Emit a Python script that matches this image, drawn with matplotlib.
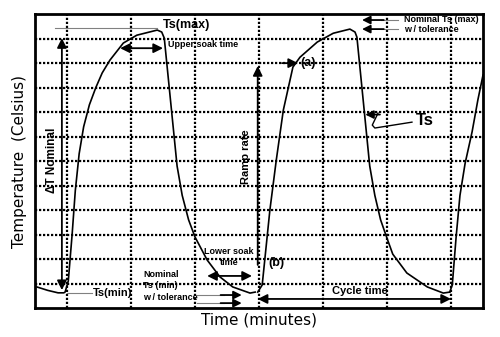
import numpy as np
import matplotlib.pyplot as plt

# --- Ts trace (time in grid units, temperature in grid units) ---
cyc1_t = [0.03, 0.2, 0.36, 0.45, 0.47, 0.52, 0.58, 0.63, 0.69, 0.76, 0.85, 0.95, 1.05, 1.17,
          1.38, 1.59, 1.91, 1.98, 2.02, 2.22, 2.3, 2.4, 2.5, 2.69, 2.89, 3.09, 3.36, 3.44]
cyc1_T = [0.86, 0.72, 0.62, 0.62, 0.65, 1.1, 3.0, 4.8, 6.3, 7.4, 8.3, 9.0, 9.6, 10.12,
          10.82, 11.14, 11.35, 11.27, 11.02, 5.8, 4.6, 3.6, 2.9, 1.96, 1.27, 0.86, 0.61, 0.65]
cyc2_t = [3.48, 3.55, 3.59, 3.67, 3.77, 3.88, 4.03, 4.14, 4.41, 4.66, 4.92, 5.0, 5.03,
          5.23, 5.31, 5.4, 5.5, 5.59, 5.81, 6.13, 6.38, 6.48]
cyc2_T = [0.65, 0.94, 1.96, 4.0, 6.04, 8.08, 9.84, 10.24, 10.86, 11.22, 11.39, 11.27, 11.06,
          5.8, 4.6, 3.6, 2.85, 2.2, 1.43, 0.86, 0.61, 0.65]
cyc3_t = [6.48, 6.52, 6.58, 6.64, 6.72, 6.83, 6.92, 7.0]
cyc3_T = [0.65, 0.94, 2.9, 4.6, 5.9, 7.2, 8.5, 9.51]

# annotation levels
ts_max = 11.43
ts_min = 0.61
tol_max = [11.76, 11.39]
tol_min = [0.53, 0.2]

fig = plt.figure(figsize=(5, 3.37), dpi=100)
ax = fig.add_axes([0.07, 0.086, 0.896, 0.872])
ax.set_xlim(0, 7)
ax.set_ylim(0, 12)
ax.set_xticks([]); ax.set_yticks([])
for s in ax.spines.values():
    s.set_linewidth(2)

# dotted grid
for x in np.arange(0.5, 7, 1):
    ax.axvline(x, color='black', lw=1.6, ls=(0, (1, 0.8)), zorder=1)
for y in range(1, 12):
    ax.axhline(y, color='black', lw=1.6, ls=(0, (1, 0.8)), zorder=1)

for t, T in [(cyc1_t, cyc1_T), (cyc2_t, cyc2_T), (cyc3_t, cyc3_T)]:
    ax.plot(t, T, color='black', lw=1.2, zorder=3)

bold = dict(fontweight='bold', family='Liberation Sans', color='black')

def arrow(x0, y0, x1, y1, style='-|>', color='black', lw=1.3, ms=14):
    ax.annotate('', xy=(x1, y1), xytext=(x0, y0),
                arrowprops=dict(arrowstyle=style, color=color, lw=lw,
                                mutation_scale=ms, shrinkA=0, shrinkB=0), zorder=4)

# Ts(max)
ax.plot([0.31, 1.91], [ts_max, ts_max], color='gray', lw=0.8, zorder=2)
ax.text(2.0, 11.57, 'Ts(max)', fontsize=9, va='center', ha='left', **bold)

# Delta T nominal
arrow(0.42, 6.0, 0.42, 11.02)
arrow(0.42, 6.0, 0.42, 0.73)
ax.text(0.27, 6.04, 'ΔT Nominal', rotation=90, fontsize=8.5, va='center', ha='center', **bold)

# upper soak time
arrow(1.33, 10.61, 2.0, 10.61, style='<|-|>')
ax.text(2.08, 10.78, 'Upper soak time', fontsize=6.5, va='center', ha='left', **bold)

# (a)
arrow(3.86, 10.0, 4.11, 10.0)
ax.text(4.15, 10.0, '(a)', fontsize=9, va='center', ha='left', **bold)

# ramp rate
arrow(3.48, 1.76, 3.48, 9.88)
ax.text(3.3, 6.2, 'Ramp rate', rotation=90, fontsize=8, va='center', ha='center', **bold)
ax.text(3.65, 1.84, '(b)', fontsize=9, va='center', ha='left', **bold)

# Ts label with leader
ax.plot([5.89, 5.31, 5.27, 5.36], [7.59, 7.35, 7.47, 7.96], color='black', lw=1.0, zorder=4)
arrow(5.39, 7.9, 5.16, 7.9, ms=12)
ax.text(5.95, 7.67, 'Ts', fontsize=12, va='center', ha='left', **bold)

# nominal Ts(max) with tolerance
for y in tol_max:
    ax.plot([5.4, 5.67], [y, y], color='gray', lw=0.8, zorder=2)
    arrow(5.45, y, 5.11, y, ms=12)
ax.text(5.77, 11.78, 'Nominal Ts (max)', fontsize=6.5, va='center', ha='left', **bold)
ax.text(5.77, 11.36, 'w / tolerance', fontsize=6.5, va='center', ha='left', **bold)

# lower soak time
ax.text(3.03, 2.29, 'Lower soak', fontsize=6.5, va='center', ha='center', **bold)
ax.text(3.03, 1.86, 'time', fontsize=6.5, va='center', ha='center', **bold)
arrow(2.69, 1.31, 3.39, 1.31, style='<|-|>')

# nominal Ts(min) with tolerance
ax.text(1.69, 1.36, 'Nominal', fontsize=6.5, va='center', ha='left', **bold)
ax.text(1.69, 0.9, 'Ts (min)', fontsize=6.5, va='center', ha='left', **bold)
ax.text(1.69, 0.42, 'w / tolerance', fontsize=6.5, va='center', ha='left', **bold)
for y in tol_min:
    ax.plot([2.53, 2.95], [y, y], color='gray', lw=0.8, zorder=2)
    arrow(2.9, y, 3.23, y, ms=12)

# Ts(min)
ax.plot([0.5, 0.89], [ts_min, ts_min], color='gray', lw=0.8, zorder=2)
ax.text(0.9, ts_min, 'Ts(min)', fontsize=8, va='center', ha='left', **bold)

# cycle time
arrow(3.48, 0.37, 6.5, 0.37, style='<|-|>')
ax.text(5.08, 0.68, 'Cycle time', fontsize=8, va='center', ha='center', **bold)

ax.set_xlabel('Time (minutes)', fontsize=11, labelpad=3)
ax.set_ylabel('Temperature  (Celsius)', fontsize=11, labelpad=6)

fig.savefig('out.png', dpi=100)
